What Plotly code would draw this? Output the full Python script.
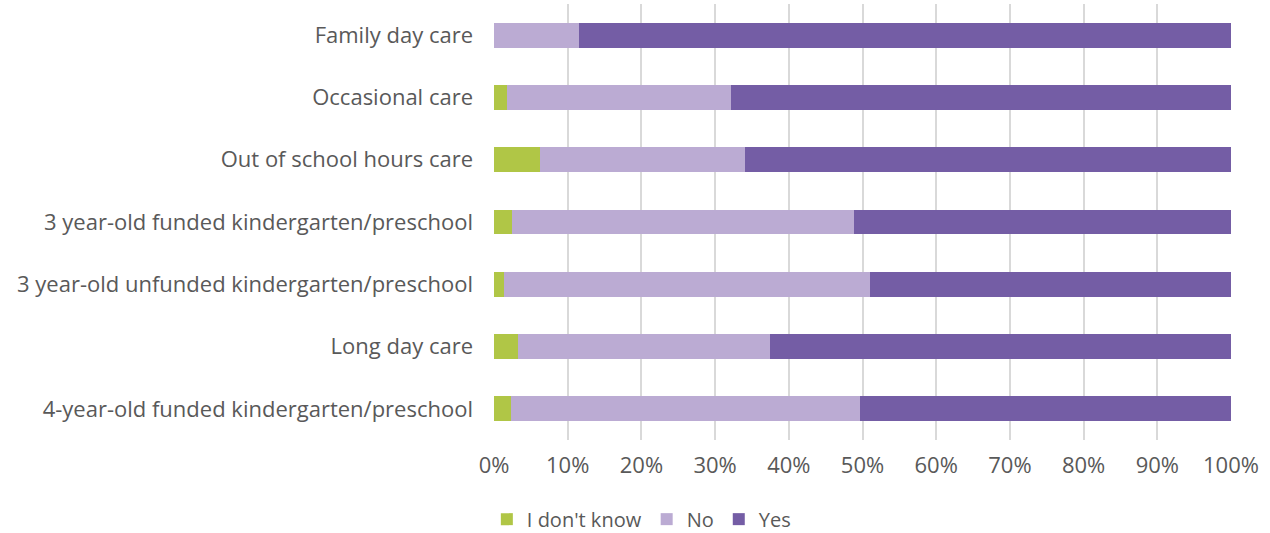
import plotly.graph_objects as go

categories = [
    "Family day care",
    "Occasional care",
    "Out of school hours care",
    "3 year-old funded kindergarten/preschool",
    "3 year-old unfunded kindergarten/preschool",
    "Long day care",
    "4-year-old funded kindergarten/preschool",
]
dont_know = [0.0, 1.7, 6.2, 2.4, 1.4, 3.3, 2.3]
no = [11.5, 30.5, 27.9, 46.4, 49.6, 34.1, 47.4]
yes = [88.5, 67.8, 65.9, 51.2, 49.0, 62.6, 50.3]

tick_vals = list(range(0, 101, 10))
tick_text = [f"{v}%" for v in tick_vals]

series = [
    ("I don't know", dont_know, "#B0C646"),
    ("No", no, "#BBABD3"),
    ("Yes", yes, "#745DA5"),
]

fig = go.Figure()
for name, vals, color in series:
    fig.add_trace(go.Bar(
        y=categories, x=vals, name=name, orientation="h",
        marker=dict(color=color, line=dict(width=0)),
    ))

font_color = "#595959"
fig.update_layout(
    barmode="stack",
    bargap=0.6,
    width=1270, height=533,
    margin=dict(l=494, r=39, t=4, b=93),
    paper_bgcolor="white", plot_bgcolor="white",
    font=dict(family="Open Sans, sans-serif", size=20, color=font_color),
    legend=dict(
        orientation="h", xref="container", yref="container",
        x=0.505, xanchor="center", y=0.026, yanchor="middle",
        font=dict(size=20, color=font_color), traceorder="normal",
        itemwidth=30,
    ),
    xaxis=dict(
        range=[0, 100], tickvals=tick_vals, ticktext=tick_text,
        tickfont=dict(size=22),
        showgrid=True, gridcolor="#D9D9D9", gridwidth=2,
        zeroline=False, showline=False, ticks="", ticklabelstandoff=10,
    ),
    yaxis=dict(
        autorange="reversed", showgrid=False, zeroline=False,
        tickfont=dict(size=22),
        showline=False, ticks="", ticklabelstandoff=20,
    ),
)

fig.write_html("out.html")
